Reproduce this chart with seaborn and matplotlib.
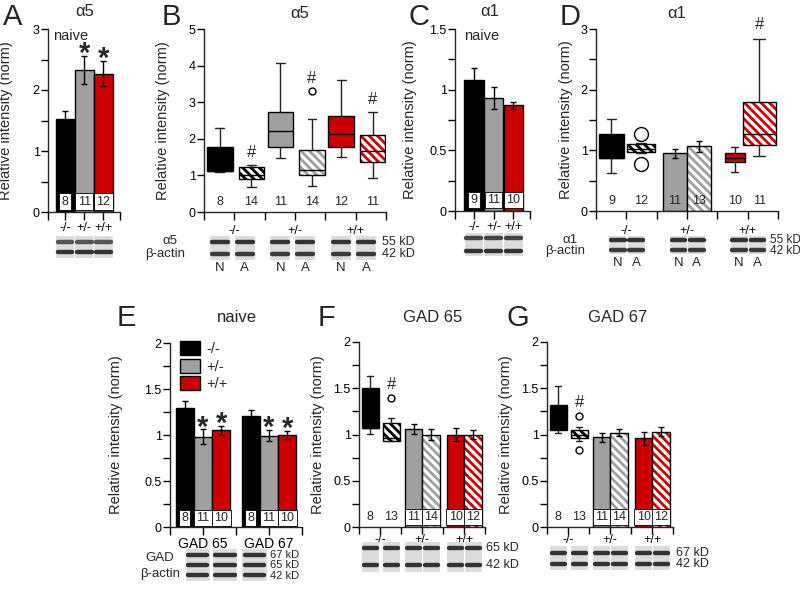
import numpy as np
import pandas as pd
import matplotlib
matplotlib.use("Agg")
import matplotlib.pyplot as plt
import seaborn as sns
from matplotlib.ticker import MultipleLocator, FuncFormatter

# ---------------- data ----------------
genotypes = ['-/-', '+/-', '+/+']
geno_colors = ['black', '#a0a0a0', '#cc0000']

# A: alpha5, naive
a5_mean = [1.52, 2.33, 2.27]
a5_sem = [0.14, 0.23, 0.20]
a5_n = [8, 11, 12]
a5_star = [False, True, True]

# C: alpha1, naive
a1_mean = [1.08, 0.93, 0.87]
a1_sem = [0.10, 0.09, 0.03]
a1_n = [9, 11, 10]

# B: alpha5, naive (N) vs alcohol (A), box stats
b_group = [0, 0, 1, 1, 2, 2]
b_treat = ['N', 'A', 'N', 'A', 'N', 'A']
b_whislo = [1.08, 0.68, 1.47, 0.72, 1.50, 0.93]
b_q1 = [1.12, 0.90, 1.78, 1.00, 1.78, 1.37]
b_med = [1.12, 1.00, 2.22, 1.15, 2.13, 1.68]
b_q3 = [1.77, 1.22, 2.72, 1.70, 2.62, 2.10]
b_whishi = [2.30, 1.28, 4.07, 2.55, 3.60, 2.72]
b_fliers = [[], [], [], [3.30], [], []]
b_n = [8, 14, 11, 14, 12, 11]
b_hash = [False, True, False, True, False, True]

# D: alpha1, mixed boxes and bars
d_group = [0, 0, 1, 1, 2, 2]
d_treat = ['N', 'A', 'N', 'A', 'N', 'A']
d_kind = ['box', 'box', 'bar', 'bar', 'box', 'box']
d_whislo = [0.62, 0.95, None, None, 0.64, 0.90]
d_q1 = [0.87, 0.97, None, None, 0.80, 1.08]
d_med = [0.87, 1.03, None, None, 0.87, 1.27]
d_q3 = [1.27, 1.10, None, None, 0.95, 1.80]
d_whishi = [1.52, 1.12, None, None, 1.06, 2.83]
d_fliers = [[], [1.27, 0.77], [], [], [], []]
d_mean = [None, None, 0.95, 1.07, None, None]
d_sem = [None, None, 0.08, 0.09, None, None]
d_n = [9, 12, 11, 13, 10, 11]
d_hash = [False, False, False, False, False, True]

# E: GAD naive
gad_names = ['GAD 65', 'GAD 67']
gad65_mean = [1.29, 0.98, 1.05]
gad65_sem = [0.08, 0.08, 0.05]
gad67_mean = [1.21, 0.99, 1.00]
gad67_sem = [0.06, 0.06, 0.04]
gad_n = [8, 11, 10]
gad_star = [False, True, True]

# F: GAD 65, G: GAD 67 (naive vs alcohol)
fg_group = [0, 0, 1, 1, 2, 2]
fg_treat = ['N', 'A', 'N', 'A', 'N', 'A']
fg_kind = ['box', 'box', 'bar', 'bar', 'bar', 'bar']
f_whislo = [1.01, 0.93, None, None, None, None]
f_q1 = [1.07, 0.93, None, None, None, None]
f_med = [1.07, 0.96, None, None, None, None]
f_q3 = [1.50, 1.12, None, None, None, None]
f_whishi = [1.63, 1.18, None, None, None, None]
f_fliers = [[], [1.40], [], [], [], []]
f_mean = [None, None, 1.06, 1.00, 1.00, 1.00]
f_sem = [None, None, 0.05, 0.06, 0.07, 0.05]
f_n = [8, 13, 11, 14, 10, 12]
f_hash = [False, True, False, False, False, False]

g_whislo = [1.02, 0.93, None, None, None, None]
g_q1 = [1.05, 0.96, None, None, None, None]
g_med = [1.10, 1.00, None, None, None, None]
g_q3 = [1.32, 1.05, None, None, None, None]
g_whishi = [1.52, 1.08, None, None, None, None]
g_fliers = [[], [1.20, 0.83], [], [], [], []]
g_mean = [None, None, 0.97, 1.02, 0.96, 1.03]
g_sem = [None, None, 0.05, 0.04, 0.07, 0.05]
g_n = [8, 13, 11, 14, 10, 12]
g_hash = [False, True, False, False, False, False]

# ---------------- style ----------------
W, H = 800, 595
sns.set_theme(style="ticks")
plt.rcParams['font.family'] = ['Liberation Sans', 'DejaVu Sans']
plt.rcParams['hatch.linewidth'] = 2.0
plt.rcParams['axes.linewidth'] = 1.0
HATCH = '\\\\\\\\'

fig = plt.figure(figsize=(W / 100, H / 100), dpi=100)


def px_axes(l, t, r, b):
    return fig.add_axes([l / W, 1 - b / H, (r - l) / W, (b - t) / H])


def ftext(x, y, s, **kw):
    fig.text(x / W, 1 - y / H, s, **kw)


def style(ax, ylim, major, minor, ylab_x, xpad=1):
    sns.despine(ax=ax)
    ax.set_ylim(*ylim)
    ax.yaxis.set_major_locator(MultipleLocator(major))
    if minor:
        ax.yaxis.set_minor_locator(MultipleLocator(minor))
    ax.yaxis.set_major_formatter(FuncFormatter(lambda v, p: f'{v:g}'))
    ax.tick_params(axis='both', which='both', direction='out', width=1,
                   colors='black', labelsize=9)
    ax.tick_params(axis='y', which='both', length=5, pad=1)
    ax.tick_params(axis='x', which='both', length=6, pad=xpad)
    ax.set_xlabel('')
    ax.set_ylabel('Relative intensity (norm)', fontsize=10.5)
    p = ax.get_position()
    ax.yaxis.set_label_coords(ylab_x / W, p.y0 + p.height / 2,
                              transform=fig.transFigure)


def split_ticks(ax, xmax=3):
    ax.set_xlim(0, xmax)
    ax.set_xticks([g + 0.5 for g in range(3)], genotypes)
    ax.set_xticks(range(4), minor=True)


def star(ax, x, y):
    ax.annotate('*', (x, y), xytext=(0, 11.5), textcoords='offset points',
                ha='center', va='top', fontsize=21, fontweight='bold')


def add_box(ax, x, w, lo, q1, med, q3, hi, fl, color, hatched, ms):
    if hatched:
        ax.bar(x, q3 - q1, bottom=q1, width=w, color='white', edgecolor=color,
               hatch=HATCH, linewidth=0, zorder=2)
        face = 'none'
    else:
        face = color
    ax.bxp([dict(med=med, q1=q1, q3=q3, whislo=lo, whishi=hi, fliers=fl)],
           positions=[x], widths=[w], capwidths=[w * 0.35], patch_artist=True,
           manage_ticks=False, zorder=3,
           boxprops=dict(facecolor=face, edgecolor='black', linewidth=1),
           medianprops=dict(color='black', linewidth=1),
           whiskerprops=dict(color='#222222', linewidth=1),
           capprops=dict(color='#222222', linewidth=1),
           flierprops=dict(marker='o', markerfacecolor='white',
                           markeredgecolor='black', markersize=ms, markeredgewidth=1))


def add_bar(ax, x, w, mean, sem, color, hatched):
    if hatched:
        ax.bar(x, mean, width=w, color='white', edgecolor=color, hatch=HATCH,
               linewidth=0, zorder=2)
        ax.bar(x, mean, width=w, fill=False, edgecolor='black', linewidth=1, zorder=3)
    else:
        ax.bar(x, mean, width=w, color=color, edgecolor='black', linewidth=1, zorder=2)
    ax.errorbar(x, mean, yerr=sem, color='black', capsize=2.5, elinewidth=1,
                capthick=1, zorder=4)


def nlabel(ax, x, y, n, boxed, fs=9):
    kw = {}
    if boxed:
        kw['bbox'] = dict(boxstyle='square,pad=0.18', fc='white', ec='black', lw=0.6)
    ax.text(x, y, str(n), ha='center', va='center', fontsize=fs, zorder=6, **kw)


def blot(ax_main, top, bottom, lanes, width, bands, shades):
    pos = ax_main.get_position()
    bax = fig.add_axes([pos.x0, 1 - bottom / H, pos.width, (bottom - top) / H])
    bax.set_xlim(ax_main.get_xlim())
    bax.set_ylim(bottom, top)
    bax.axis('off')
    lanes = np.asarray(lanes, dtype=float)
    bax.bar(lanes, bottom - top, bottom=top, width=width, color='#dcdcdc', linewidth=0)
    for yb, shade in zip(bands, shades):
        bax.hlines(np.full(len(lanes), yb), lanes - width * 0.4, lanes + width * 0.4,
                   colors=shade, linewidth=3.2, capstyle='round')
    return bax


# ---------------- A ----------------
axA = px_axes(48, 29, 120, 212)
sns.barplot(x=genotypes, y=a5_mean, hue=genotypes, palette=geno_colors,
            saturation=1, width=0.97, edgecolor='black', linewidth=1,
            errorbar=None, legend=False, ax=axA, zorder=2)
axA.errorbar(range(3), a5_mean, yerr=a5_sem, fmt='none', ecolor='black',
             capsize=2.5, elinewidth=1, capthick=1, zorder=4)
style(axA, (0, 3), 1, 0.5, 13)
axA.set_xlim(-0.88, 2.86)
axA.set_xticks(range(3), genotypes)
axA.set_xticks([-0.88, 2.86], minor=True)
for i in range(3):
    nlabel(axA, i, 0.17, a5_n[i], True)
    if a5_star[i]:
        star(axA, i, a5_mean[i] + a5_sem[i])
axA.text(-0.6, 3.0, 'naive', ha='left', va='top', fontsize=10.5)
blot(axA, 236, 258, [0, 1, 2], 0.95, [242, 252], ['#555555', '#333333'])

# ---------------- C ----------------
axC = px_axes(455, 29, 530, 211)
sns.barplot(x=genotypes, y=a1_mean, hue=genotypes, palette=geno_colors,
            saturation=1, width=0.97, edgecolor='black', linewidth=1,
            errorbar=None, legend=False, ax=axC, zorder=2)
axC.errorbar(range(3), a1_mean, yerr=a1_sem, fmt='none', ecolor='black',
             capsize=2.5, elinewidth=1, capthick=1, zorder=4)
style(axC, (0, 1.5), 0.5, 0.25, 417)
axC.set_xlim(-0.96, 2.84)
axC.set_xticks(range(3), genotypes)
axC.set_xticks([-0.96, 2.84], minor=True)
for i in range(3):
    nlabel(axC, i, 0.09, a1_n[i], True)
axC.text(-0.5, 1.5, 'naive', ha='left', va='top', fontsize=10.5)
blot(axC, 233, 256, [0, 1, 2], 0.95, [238, 251], ['#444444', '#333333'])

# ---------------- B ----------------
axB = px_axes(204, 29, 386, 212)
b_off = {'N': 0.26, 'A': 0.78}
for i in range(6):
    x = b_group[i] + b_off[b_treat[i]]
    add_box(axB, x, 0.42, b_whislo[i], b_q1[i], b_med[i], b_q3[i], b_whishi[i],
            b_fliers[i], geno_colors[b_group[i]], b_treat[i] == 'A', 5)
    nlabel(axB, x, 0.27, b_n[i], False)
    if b_hash[i]:
        top = max([b_whishi[i]] + b_fliers[i])
        axB.text(x, top + 0.15, '#', ha='center', va='bottom', fontsize=12)
style(axB, (0, 5), 1, None, 170, xpad=3)
split_ticks(axB)
b_lanes = [g + o for g in range(3) for o in (0.26, 0.67)]
blot(axB, 236, 260, b_lanes, 0.33, [242, 254], ['#333333', '#3a3a3a'])
ftext(170, 241, 'α5', ha='center', va='center', fontsize=9.5)
ftext(165, 254, 'β-actin', ha='center', va='center', fontsize=9.5)
ftext(382, 242, '55 kD', ha='left', va='center', fontsize=9)
ftext(382, 254, '42 kD', ha='left', va='center', fontsize=9)
for lx, t in zip(b_lanes, b_treat):
    axB.text(lx, -0.306, t, transform=axB.get_xaxis_transform(),
             ha='center', va='center', fontsize=9.5)

# ---------------- D ----------------
axD = px_axes(596, 29, 778, 211)
d_x = [0.255, 0.74, 1.3, 1.7, 2.29, 2.69]
d_w = [0.41, 0.46, 0.4, 0.4, 0.33, 0.54]
for i in range(6):
    col = geno_colors[d_group[i]]
    hat = d_treat[i] == 'A'
    if d_kind[i] == 'box':
        add_box(axD, d_x[i], d_w[i], d_whislo[i], d_q1[i], d_med[i], d_q3[i],
                d_whishi[i], d_fliers[i], col, hat, 10)
    else:
        add_bar(axD, d_x[i], d_w[i], d_mean[i], d_sem[i], col, hat)
    nlabel(axD, d_x[i], 0.17, d_n[i], False)
    if d_hash[i]:
        axD.text(d_x[i], d_whishi[i] + 0.12, '#', ha='center', va='bottom',
                 fontsize=12, clip_on=False)
style(axD, (0, 3), 1, 0.5, 573, xpad=4)
split_ticks(axD)
d_lanes = [g + o for g in range(3) for o in (0.36, 0.66)]
blot(axD, 236, 254, d_lanes, 0.28, [240, 250], ['#333333', '#3a3a3a'])
ftext(570, 240, 'α1', ha='center', va='center', fontsize=9.5)
ftext(565, 251, 'β-actin', ha='center', va='center', fontsize=9.5)
ftext(770, 240, '55 kD', ha='left', va='center', fontsize=8.5)
ftext(770, 251, '42 kD', ha='left', va='center', fontsize=8.5)
for lx, t in zip(d_lanes, d_treat):
    axD.text(lx, -0.285, t, transform=axD.get_xaxis_transform(),
             ha='center', va='center', fontsize=9.5)

# ---------------- E ----------------
axE = px_axes(170, 343, 302, 527)
df_e = pd.DataFrame({
    'gad': np.repeat(gad_names, 3),
    'geno': genotypes * 2,
    'mean': gad65_mean + gad67_mean,
    'sem': gad65_sem + gad67_sem,
})
sns.barplot(data=df_e, x='gad', y='mean', hue='geno', palette=geno_colors,
            saturation=1, width=0.83, edgecolor='black', linewidth=1,
            errorbar=None, ax=axE, zorder=2)
bar_containers = list(axE.containers)
for h, cont in enumerate(bar_containers):
    for j, bar in enumerate(cont):
        row = df_e[(df_e.gad == gad_names[j]) & (df_e.geno == genotypes[h])].iloc[0]
        xc = bar.get_x() + bar.get_width() / 2
        axE.errorbar(xc, row['mean'], yerr=row['sem'], fmt='none', ecolor='black',
                     capsize=2.5, elinewidth=1, capthick=1, zorder=4)
        nlabel(axE, xc, 0.1, gad_n[h], True)
        if gad_star[h]:
            star(axE, xc, row['mean'] + row['sem'])
style(axE, (0, 2), 0.5, 0.25, 123)
axE.set_xlim(-0.5, 1.5)
axE.set_xticks([0, 1], gad_names)
axE.set_xticks([-0.5, 0.5, 1.5], minor=True)
axE.tick_params(axis='x', labelsize=10)
handles, labels = axE.get_legend_handles_labels()
axE.legend(handles, labels, loc='upper left', bbox_to_anchor=(0.03, 1.04),
           frameon=False, handlelength=1.4, handleheight=1.1, handletextpad=0.4,
           labelspacing=0.15, fontsize=10.5, borderaxespad=0)
blot(axE, 549, 581, [-0.08, 0.33, 0.78], 0.37, [555, 565, 575],
     ['#333333', '#333333', '#333333'])
ftext(160, 558, 'GAD', ha='center', va='center', fontsize=9.5)
ftext(160, 574, 'β-actin', ha='center', va='center', fontsize=9.5)
ftext(270, 555, '67 kD', ha='left', va='center', fontsize=8)
ftext(270, 565, '65 kD', ha='left', va='center', fontsize=8)
ftext(270, 576, '42 kD', ha='left', va='center', fontsize=8)

# ---------------- F and G ----------------
fg_x = {'box': {'N': 0.27, 'A': 0.77}, 'bar': {'N': 0.3, 'A': 0.72}}


def gad_panel(ax, lo, q1, med, q3, hi, fl, mean, sem, ns, hashes, ylab_x):
    for i in range(6):
        col = geno_colors[fg_group[i]]
        hat = fg_treat[i] == 'A'
        x = fg_group[i] + fg_x[fg_kind[i]][fg_treat[i]]
        if fg_kind[i] == 'box':
            add_box(ax, x, 0.4, lo[i], q1[i], med[i], q3[i], hi[i], fl[i], col, hat, 5)
            nlabel(ax, x, 0.11, ns[i], False)
            if hashes[i]:
                top = max([hi[i]] + fl[i])
                ax.text(x, top + 0.06, '#', ha='center', va='bottom', fontsize=12)
        else:
            add_bar(ax, x, 0.42, mean[i], sem[i], col, hat)
            nlabel(ax, x, 0.11, ns[i], True)
    style(ax, (0, 2), 0.5, 0.25, ylab_x, xpad=0)
    split_ticks(ax)
    ax.tick_params(axis='x', which='both', length=5)


axF = px_axes(359, 342, 485, 527)
gad_panel(axF, f_whislo, f_q1, f_med, f_q3, f_whishi, f_fliers, f_mean, f_sem,
          f_n, f_hash, 325)
fg_lanes = [g + fg_x[k][t] for g, k, t in zip(fg_group, fg_kind, fg_treat)]
blot(axF, 542, 572, fg_lanes, 0.4, [548, 565], ['#333333', '#333333'])
ftext(486, 548, '65 kD', ha='left', va='center', fontsize=9)
ftext(486, 565, '42 kD', ha='left', va='center', fontsize=9)

axG = px_axes(547, 342, 673, 527)
gad_panel(axG, g_whislo, g_q1, g_med, g_q3, g_whishi, g_fliers, g_mean, g_sem,
          g_n, g_hash, 513)
blot(axG, 546, 570, fg_lanes, 0.4, [553, 564], ['#333333', '#333333'])
ftext(676, 553, '67 kD', ha='left', va='center', fontsize=9)
ftext(676, 564, '42 kD', ha='left', va='center', fontsize=9)

# ---------------- titles and panel letters ----------------
for s, x, y in [('A', 3, 25), ('B', 162, 25), ('C', 409, 25), ('D', 560, 25),
                ('E', 117, 326), ('F', 318, 326), ('G', 507, 326)]:
    ftext(x, y, s, ha='left', va='baseline', fontsize=21)
for s, x, y in [('α5', 85, 12), ('α5', 300, 13), ('α1', 490, 12), ('α1', 677, 13),
                ('naive', 237, 318), ('GAD 65', 433, 318), ('GAD 67', 618, 318)]:
    ftext(x, y, s, ha='center', va='center', fontsize=12)

fig.savefig('out.png', dpi=100, facecolor='white')
